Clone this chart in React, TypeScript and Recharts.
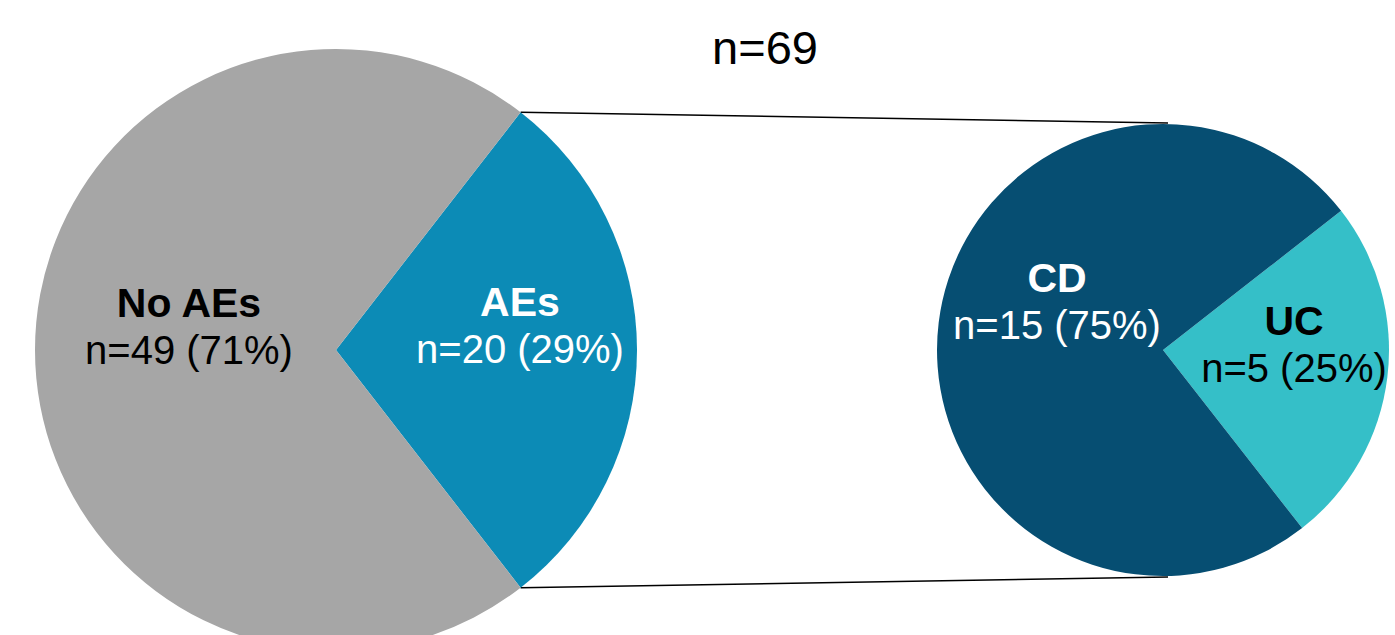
import { PieChart, Pie, Cell } from "recharts";

const TOTAL_LABEL = "n=69";

const OVERALL_NAMES = ["AEs", "No AEs"];
const OVERALL_VALUES = [20, 49];

const AE_NAMES = ["UC", "CD"];
const AE_VALUES = [5, 15];

const COLORS: Record<string, string> = {
  AEs: "#0c8bb6",
  "No AEs": "#a6a6a6",
  CD: "#064e72",
  UC: "#35bfc8",
};

const TEXT_COLORS: Record<string, string> = {
  AEs: "#ffffff",
  "No AEs": "#000000",
  CD: "#ffffff",
  UC: "#000000",
};

// first-line baseline of each label, relative to the pie centre
const LABEL_OFFSETS: Record<string, [number, number]> = {
  AEs: [184, -34],
  "No AEs": [-147, -33],
  CD: [-106, -58],
  UC: [131, -15],
};

const W = 1395;
const H = 635;
const FONT = "'Liberation Sans', Arial, sans-serif";

const LEFT = { cx: 336, cy: 350, r: 301 };
const RIGHT = { cx: 1163, cy: 350, r: 226 };

const overallData = OVERALL_NAMES.map((name, i) => ({ name, value: OVERALL_VALUES[i] }));
const aeData = AE_NAMES.map((name, i) => ({ name, value: AE_VALUES[i] }));

const sum = (arr: number[]) => arr.reduce((a, b) => a + b, 0);

// AEs slice centred on 3 o'clock
const overallHalf = (OVERALL_VALUES[0] / sum(OVERALL_VALUES)) * 180;
// UC slice sits a little below 3 o'clock
const ucStart = -52;

function pctLabel(total: number) {
  return (props: any) => {
    const { cx, cy, name, value } = props;
    const [dx, dy] = LABEL_OFFSETS[name];
    const x = cx + dx;
    const y = cy + dy;
    const fill = TEXT_COLORS[name];
    const pct = Math.round((value / total) * 100);
    return (
      <g key={name}>
        <text x={x} y={y} textAnchor="middle" fontFamily={FONT} fontSize={41} fontWeight="bold" fill={fill}>
          {name}
        </text>
        <text x={x} y={y + 47} textAnchor="middle" fontFamily={FONT} fontSize={40} fill={fill}>
          {`n=${value} (${pct}%)`}
        </text>
      </g>
    );
  };
}

export default function App() {
  const rad = (overallHalf * Math.PI) / 180;
  const x0 = LEFT.cx + LEFT.r * Math.cos(rad);
  const yTop = LEFT.cy - LEFT.r * Math.sin(rad);
  const yBot = LEFT.cy + LEFT.r * Math.sin(rad);
  const x1 = RIGHT.cx + 5;

  return (
    <div style={{ position: "absolute", left: 0, top: 0, width: W, height: H, background: "#fff" }}>
      <PieChart width={W} height={H} margin={{ top: 0, right: 0, bottom: 0, left: 0 }}>
        <Pie
          data={overallData}
          dataKey="value"
          nameKey="name"
          cx={LEFT.cx}
          cy={LEFT.cy}
          outerRadius={LEFT.r}
          startAngle={-overallHalf}
          endAngle={360 - overallHalf}
          stroke="none"
          label={pctLabel(sum(OVERALL_VALUES))}
          labelLine={false}
          isAnimationActive={false}
        >
          {overallData.map((d) => (
            <Cell key={d.name} fill={COLORS[d.name]} />
          ))}
        </Pie>
        <Pie
          data={aeData}
          dataKey="value"
          nameKey="name"
          cx={RIGHT.cx}
          cy={RIGHT.cy}
          outerRadius={RIGHT.r}
          startAngle={ucStart}
          endAngle={ucStart + 360}
          stroke="none"
          label={pctLabel(sum(AE_VALUES))}
          labelLine={false}
          isAnimationActive={false}
        >
          {aeData.map((d) => (
            <Cell key={d.name} fill={COLORS[d.name]} />
          ))}
        </Pie>
        <g>
          <line x1={x0} y1={yTop} x2={x1} y2={RIGHT.cy - RIGHT.r - 1} stroke="#000" strokeWidth={1.5} />
          <line x1={x0} y1={yBot} x2={x1} y2={RIGHT.cy + RIGHT.r + 1} stroke="#000" strokeWidth={1.5} />
          <text x={765} y={64} textAnchor="middle" fontFamily={FONT} fontSize={47} fill="#000">
            {TOTAL_LABEL}
          </text>
        </g>
      </PieChart>
    </div>
  );
}
